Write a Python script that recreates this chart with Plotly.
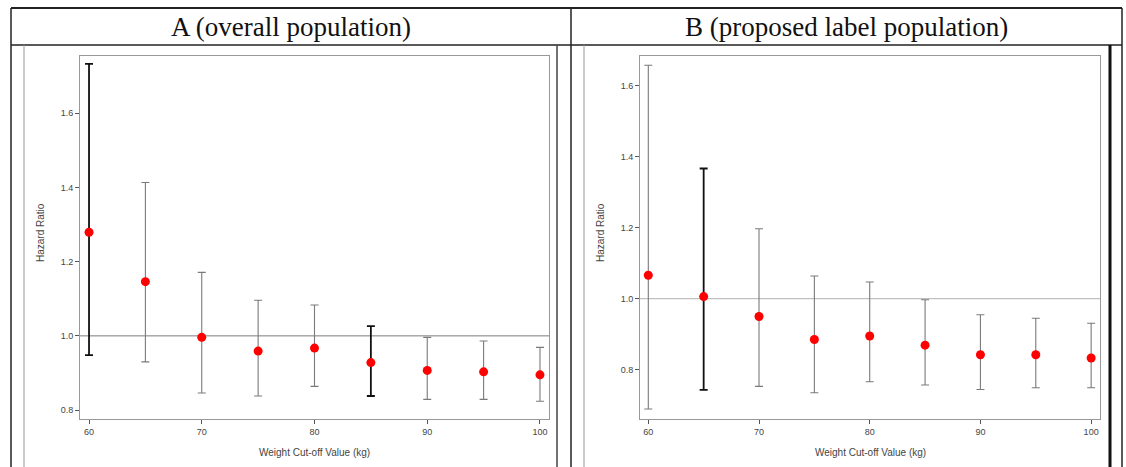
import plotly.graph_objects as go

# ---------------- data ----------------
weights = [60, 65, 70, 75, 80, 85, 90, 95, 100]

hr_a = [1.279, 1.146, 0.996, 0.959, 0.967, 0.928, 0.907, 0.903, 0.895]
lo_a = [0.948, 0.930, 0.846, 0.838, 0.864, 0.838, 0.829, 0.829, 0.824]
hi_a = [1.733, 1.413, 1.171, 1.096, 1.083, 1.026, 0.996, 0.986, 0.969]
dark_a = [60, 85]

hr_b = [1.066, 1.006, 0.950, 0.885, 0.895, 0.869, 0.842, 0.842, 0.833]
lo_b = [0.689, 0.743, 0.753, 0.735, 0.766, 0.757, 0.744, 0.749, 0.749]
hi_b = [1.658, 1.367, 1.197, 1.064, 1.047, 0.997, 0.955, 0.945, 0.931]
dark_b = [65]

titles = ["A (overall population)", "B (proposed label population)"]
x_title = "Weight Cut-off Value (kg)"
y_title = "Hazard Ratio"
x_ticks = [60, 70, 80, 90, 100]
y_ticks = [0.8, 1.0, 1.2, 1.4, 1.6]
y_tick_text = ["0.8", "1.0", "1.2", "1.4", "1.6"]

W, H = 1126, 467
def fx(px):
    return px / W
def fy(py):
    return 1 - py / H

fig = go.Figure()

panels = [
    dict(hr=hr_a, lo=lo_a, hi=hi_a, dark=dark_a, xa="x", ya="y",
         dom=[fx(80), fx(549)], xr=[59.2, 100.8], yr=[0.776, 1.754], refc="#7a7a7a"),
    dict(hr=hr_b, lo=lo_b, hi=hi_b, dark=dark_b, xa="x2", ya="y2",
         dom=[fx(640), fx(1100)], xr=[59.25, 100.8], yr=[0.661, 1.684], refc="#b0b0b0"),
]

tick_font = dict(family="Liberation Sans, Arial, sans-serif", size=9, color="#444")

for i, p in enumerate(panels):
    # reference line at HR = 1
    fig.add_trace(go.Scatter(x=[p["xr"][0], p["xr"][1]], y=[1.0, 1.0], mode="lines",
                             line=dict(color=p["refc"], width=1), xaxis=p["xa"], yaxis=p["ya"],
                             hoverinfo="skip", showlegend=False))
    for dark in (False, True):
        xs, ys, ep, em = [], [], [], []
        for w, h, l, u in zip(weights, p["hr"], p["lo"], p["hi"]):
            if (w in p["dark"]) == dark:
                xs.append(w)
                ys.append(h)
                ep.append(u - h)
                em.append(h - l)
        fig.add_trace(go.Scatter(
            x=xs, y=ys, mode="markers", marker=dict(size=1, opacity=0),
            error_y=dict(type="data", symmetric=False, array=ep, arrayminus=em,
                         color="#111111" if dark else "#7a7a7a",
                         thickness=1.8 if dark else 1.1, width=4),
            xaxis=p["xa"], yaxis=p["ya"], showlegend=False, hoverinfo="skip"))
    fig.add_trace(go.Scatter(x=weights, y=p["hr"], mode="markers",
                             marker=dict(color="#ff0000", size=9, line=dict(width=0)),
                             xaxis=p["xa"], yaxis=p["ya"], showlegend=False))

    ax = dict(domain=p["dom"], range=p["xr"], tickvals=x_ticks, ticktext=[str(t) for t in x_ticks],
              ticks="outside", ticklen=4, tickcolor="#555", showline=True, linecolor="#999",
              linewidth=1, mirror=True, showgrid=False, zeroline=False, tickfont=tick_font,
              anchor=p["ya"])
    ay = dict(domain=[fy(419), fy(56)], range=p["yr"], tickvals=y_ticks, ticktext=y_tick_text,
              ticks="outside", ticklen=4, tickcolor="#555", showline=True, linecolor="#999",
              linewidth=1, mirror=True, showgrid=False, zeroline=False, tickfont=tick_font,
              anchor=p["xa"])
    if i == 0:
        fig.update_layout(xaxis=ax, yaxis=ay)
    else:
        fig.update_layout(xaxis2=ax, yaxis2=ay)

# axis titles
label_font = dict(family="Liberation Sans, Arial, sans-serif", size=10, color="#444")
for xc_px, yc_px, cx_px in [(40, 233, 314), (600, 233, 870)]:
    fig.add_annotation(x=fx(xc_px), y=fy(yc_px), xref="paper", yref="paper", text=y_title,
                       textangle=-90, showarrow=False, font=label_font,
                       xanchor="center", yanchor="middle")
    fig.add_annotation(x=fx(cx_px), y=fy(452), xref="paper", yref="paper", text=x_title,
                       showarrow=False, font=label_font, xanchor="center", yanchor="middle")

# header titles
title_font = dict(family="Liberation Serif, Times New Roman, serif", size=27, color="#111")
for t, cx in zip(titles, [291, 846]):
    fig.add_annotation(x=fx(cx), y=fy(27), xref="paper", yref="paper", text=t,
                       showarrow=False, font=title_font, xanchor="center", yanchor="middle")

# table lines
shapes = []
def line(x0, y0, x1, y1, color="#222", width=1.5):
    shapes.append(dict(type="line", xref="paper", yref="paper", x0=fx(x0), y0=fy(y0),
                       x1=fx(x1), y1=fy(y1), line=dict(color=color, width=width)))
line(11, 8, 1122, 8, width=2)
line(11, 45, 1122, 45, width=1.5)
line(11, 8, 11, 467, width=1.5)
line(571, 8, 571, 467, width=1.5)
line(1122, 8, 1122, 467, width=1.5)
# panel frames
line(24, 45, 24, 467, color="#999", width=1)
line(557, 45, 557, 467, color="#444", width=1.5)
line(584, 45, 584, 467, color="#999", width=1)
line(1110, 45, 1110, 467, color="#111", width=3)
fig.update_layout(shapes=shapes)

fig.update_layout(width=W, height=H, margin=dict(l=0, r=0, t=0, b=0),
                  paper_bgcolor="white", plot_bgcolor="white", showlegend=False)

fig.write_html("out.html", config={"displayModeBar": False, "staticPlot": True},
               post_script="document.body.style.margin='0';document.body.style.overflow='hidden';")
